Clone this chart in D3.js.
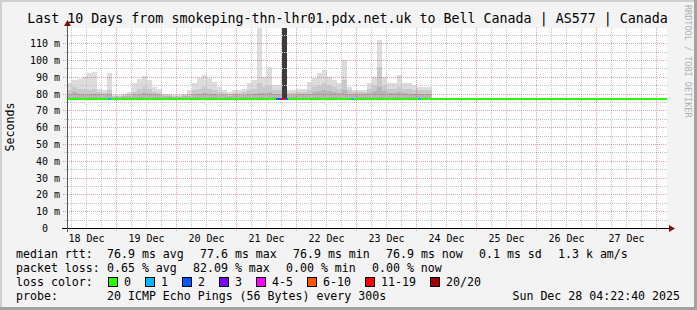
<!DOCTYPE html>
<html><head><meta charset="utf-8">
<script src="https://cdn.jsdelivr.net/npm/d3@7"></script>
<style>
html,body{margin:0;padding:0;background:#f3f3f3;}
svg{display:block;}
text{font-family:"DejaVu Sans Mono",monospace;white-space:pre;}
</style></head><body>
<svg id="c" width="697" height="310"></svg>
<script>
// ---------- data ----------
const title = "Last 10 Days from smokeping-thn-lhr01.pdx.net.uk to Bell Canada | AS577 | Canada";
const startTime = "2025-12-18T04:22:40Z";
const endTime = "2025-12-28T04:22:40Z";
const stampText = "Sun Dec 28 04:22:40 2025";
const xTickLabels = ["18 Dec","19 Dec","20 Dec","21 Dec","22 Dec","23 Dec","24 Dec","25 Dec","26 Dec","27 Dec"];
const yTickValues = [0,10,20,30,40,50,60,70,80,90,100,110];
const yTickLabels = ["0  ","10 m","20 m","30 m","40 m","50 m","60 m","70 m","80 m","90 m","100 m","110 m"];
const yMinorValues = [5,15,25,35,45,55,65,75,85,95,105,115];
const bucketHours = 2; // smoke buckets, one every 2 h from start
// smoke (ms): highest ping, upper of middle band, upper of dense band
const smokeTop = [86,88,88.5,90,92,93,83,82,92,79,79,80,81,86,88.5,90.5,88,84,82.5,80,80,79,79,80,82,86,89,91,89,87,84,82,81,82,82,83,86,88,119,90,96,85,85,82,82,82,83,83,87,89,92,94,90,88,86,100,84,82,82,82,86,90,112,90,86,86,91,86,86,85,84,84,84];
const smokeMid = [82,84,83,83,82,83,81,80.5,82,78.5,78.5,79,79.5,81,83,84,83,81,80.5,79,79,78.5,78.5,79,80,82,83,84,83,82,81,80.5,80,80.5,80.5,81,82,83,86,84,85,82,82,85,80.5,80.5,81,81,82,84,85,86,85,84,83,88,82,81,81,81,83,85,96,85,83,83,84,83,83,82,82,82,82];
const smokeLow = [80,81,80,80,80,80,79.5,79,79.5,78,78,78.3,78.5,79,80,80.5,80,79.5,79,78.3,78.3,78,78,78.3,78.8,79.5,80,80.5,80,79.5,79.2,79,78.8,79,79,79.2,79.5,80,80.5,80.5,81,80,80,81,79,79,79.5,79.5,80,81,81.5,82,81.5,81,80.5,82,80,79.5,79.5,79.5,80.5,81.5,84,81.5,80.5,80.5,81,80.5,80,80,79.5,79.5,79.5];
// pings left during the heavy-loss period (drawn dark)
const smokeHeavy = [0,0,0,0,0,0,0,0,0,0,0,0,0,0,0,0,0,0,0,0,0,0,0,0,0,0,0,0,0,0,0,0,0,0,0,0,0,0,0,0,0,0,0,119,0,0,0,0,0,0,0,0,0,0,0,0,0,0,0,0,0,0,0,0,0,0,0,0,0,0,0,0,0];
const smokeBase = 77.4;
const medianHours = [0, 240];
const medianMs = [76.9, 76.9];
// loss events on the median line
const lossStartH = [16.4, 83.6, 85.6, 87.2, 113.6, 140.4];
const lossDurH   = [1.2, 2.0, 1.6, 1.2, 1.2, 1.2];
const lossCount  = [1, 2, 15, 2, 1, 1];
const lossLegendLabels = ["0","1","2","3","4-5","6-10","11-19","20/20"];
const lossLegendMax = [0,1,2,3,5,10,19,20];
const lossLegendColors = ["#26ff00","#00b8ff","#0059ff","#7e00ff","#ff00ff","#ff5500","#ff0000","#a10000"];
const legendLabels = ["median rtt:", "packet loss:", "loss color:", "probe:"];
const rttFields = ["76.9 ms avg", "77.6 ms max", "76.9 ms min", "76.9 ms now", "0.1 ms sd", "1.3 k am/s"];
const lossFields = ["0.65 % avg", "82.09 % max", "0.00 % min", "0.00 % now"];
const probeText = "20 ICMP Echo Pings (56 Bytes) every 300s";

// ---------- drawing ----------
const svg = d3.select("#c");
const W = 697, H = 310;
const L = 67, R = 667, T = 28, B = 228;
const t0 = new Date(startTime), t1 = new Date(endTime);
const x = d3.scaleUtc().domain([t0, t1]).range([L, R]);
const y = d3.scaleLinear().domain([0, 119]).range([B, T]);
const hr = h => new Date(t0.getTime() + h * 3600e3);

svg.append("rect").attr("width", W).attr("height", H).attr("fill", "#f3f3f3");
svg.append("rect").attr("x",0).attr("y",0).attr("width",W).attr("height",2).attr("fill","#d0d0d0");
svg.append("rect").attr("x",0).attr("y",0).attr("width",2).attr("height",H).attr("fill","#d0d0d0");
svg.append("rect").attr("x",W-3).attr("y",0).attr("width",3).attr("height",H).attr("fill","#a2a2a2");
svg.append("rect").attr("x",0).attr("y",H-3).attr("width",W).attr("height",3).attr("fill","#a2a2a2");

svg.append("rect").attr("x", L).attr("y", T).attr("width", R - L).attr("height", B - T).attr("fill", "#ffffff");

// smoke
function series(arr) {
  const pts = arr.map((v, i) => ({t: hr(i * bucketHours), v}));
  pts.push({t: hr(arr.length * bucketHours), v: arr[arr.length - 1]});
  return pts;
}
const area = d3.area().x(d => x(d.t)).y0(y(smokeBase)).y1(d => y(Math.max(d.v, smokeBase)))
  .curve(d3.curveStepAfter);
const smokeG = svg.append("g").attr("shape-rendering", "crispEdges");
[[smokeTop, "#dcdcdc"], [smokeMid, "#c9c9c9"], [smokeLow, "#b5b5b5"], [smokeHeavy, "#3c3c3c"]].forEach(([arr, col]) => {
  smokeG.append("path").datum(series(arr)).attr("d", area).attr("fill", col);
});

// grid
const grid = svg.append("g").attr("shape-rendering", "crispEdges").attr("stroke-width", 1).attr("stroke-dasharray", "1,1");
const minorColor = "#c4c4c4", majorColor = "rgba(222,0,0,0.38)";
d3.utcHour.every(6).range(t0, t1).forEach(d => {
  if (d.getUTCHours() === 0) return;
  const px = Math.round(x(d)) + 0.5;
  grid.append("line").attr("x1", px).attr("x2", px).attr("y1", T).attr("y2", B + 2).attr("stroke", minorColor);
});
yMinorValues.forEach(v => {
  const py = Math.round(y(v)) + 0.5;
  grid.append("line").attr("x1", L - 3).attr("x2", R).attr("y1", py).attr("y2", py).attr("stroke", minorColor);
});
d3.utcDay.range(t0, t1).forEach(d => {
  const px = Math.round(x(d)) + 0.5;
  grid.append("line").attr("x1", px).attr("x2", px).attr("y1", T).attr("y2", B + 3).attr("stroke", majorColor);
});
yTickValues.filter(v => v > 0).forEach(v => {
  const py = Math.round(y(v)) + 0.5;
  grid.append("line").attr("x1", L - 4).attr("x2", R).attr("y1", py).attr("y2", py).attr("stroke", majorColor);
});

// median line with loss colours
const medY = Math.round(y(medianMs[0]));
svg.append("path").datum(medianHours.map((h, i) => ({t: hr(h), v: medianMs[i]})))
  .attr("d", d3.line().x(d => x(d.t)).y(d => Math.round(y(d.v))))
  .attr("stroke", lossLegendColors[0]).attr("stroke-width", 2).attr("fill", "none").attr("shape-rendering", "crispEdges");
function lossColor(c) { const i = lossLegendMax.findIndex(m => c <= m); return lossLegendColors[i]; }
svg.append("g").attr("shape-rendering", "crispEdges").selectAll("rect").data(lossStartH).join("rect")
  .attr("x", (h) => Math.round(x(hr(h))))
  .attr("width", (h, i) => Math.max(2, Math.round(x(hr(h + lossDurH[i]))) - Math.round(x(hr(h)))))
  .attr("y", (h, i) => medY - 1).attr("height", 2)
  .attr("fill", (h, i) => lossColor(lossCount[i]));

// axes lines + arrows
const axisCol = "#000000", arrowCol = "#7a1010";
svg.append("line").attr("x1", L - 5).attr("x2", R + 3).attr("y1", B + 0.5).attr("y2", B + 0.5).attr("stroke", axisCol).attr("shape-rendering", "crispEdges");
svg.append("line").attr("x1", L + 0.5).attr("x2", L + 0.5).attr("y1", B + 4).attr("y2", T - 3).attr("stroke", "#555").attr("shape-rendering", "crispEdges");
svg.append("path").attr("d", `M${R + 2},${B - 3}L${R + 8},${B + 0.5}L${R + 2},${B + 4}Z`).attr("fill", arrowCol);
svg.append("path").attr("d", `M${L - 3},${T - 2}L${L + 0.5},${T - 8}L${L + 4},${T - 2}Z`).attr("fill", arrowCol);

// axis labels via d3 axes
const yAxis = svg.append("g").attr("transform", `translate(${L},0)`)
  .call(d3.axisLeft(y).tickValues(yTickValues).tickFormat((d, i) => yTickLabels[i]).tickSize(0).tickPadding(7));
yAxis.select(".domain").remove();
yAxis.selectAll("text").attr("font-family", "DejaVu Sans Mono").attr("font-size", 10).attr("fill", "#000").attr("dy", "0.36em");

const labelDates = xTickLabels.map(s => d3.utcHour.offset(d3.utcParse("%d %b %Y")(s + " 2025"), 12));
const xAxis = svg.append("g").attr("transform", `translate(0,${B})`)
  .call(d3.axisBottom(x).tickValues(labelDates).tickFormat((d, i) => xTickLabels[i]).tickSize(0).tickPadding(7));
xAxis.select(".domain").remove();
xAxis.selectAll("text").attr("font-family", "DejaVu Sans Mono").attr("font-size", 10).attr("fill", "#000");

// title
svg.append("text").attr("x", 347.5).attr("y", 23).attr("text-anchor", "middle").attr("font-size", 13.3).attr("fill", "#000").text(title);
// vertical label
svg.append("text").attr("transform", "translate(14,127) rotate(-90)").attr("text-anchor", "middle").attr("font-size", 11.6).attr("fill", "#000").text("Seconds");
// watermark
svg.append("text").attr("transform", "translate(685,5) rotate(90)").attr("font-size", 8.5).attr("fill", "#b0b0b0").text("RRDTOOL / TOBI OETIKER");

// legend
const CW = 7, GAP = 16, COL0 = 107;
const lg = svg.append("g").attr("font-size", 11.6).attr("fill", "#000");
const rowY = [258, 272, 286, 300];
legendLabels.forEach((s, i) => lg.append("text").attr("x", 16).attr("y", rowY[i]).text(s));
function fieldRow(fields, yy) {
  let fx = COL0;
  fields.forEach(f => { lg.append("text").attr("x", fx).attr("y", yy).text(f); fx += f.length * CW + GAP; });
}
fieldRow(rttFields, rowY[0]);
fieldRow(lossFields, rowY[1]);
lg.append("text").attr("x", COL0).attr("y", rowY[3]).text(probeText);
lg.append("text").attr("x", 680).attr("y", rowY[3]).attr("text-anchor", "end").text(stampText);
let lx = 108;
lossLegendLabels.forEach((lab, i) => {
  lg.append("rect").attr("x", lx + 0.5).attr("y", rowY[2] - 8.5).attr("width", 9).attr("height", 9)
    .attr("fill", lossLegendColors[i]).attr("stroke", "#000").attr("stroke-width", 1).attr("shape-rendering", "crispEdges");
  lg.append("text").attr("x", lx + 16).attr("y", rowY[2]).text(lab);
  lx = lx + 16 + lab.length * CW + 14;
});
</script>
</body></html>
